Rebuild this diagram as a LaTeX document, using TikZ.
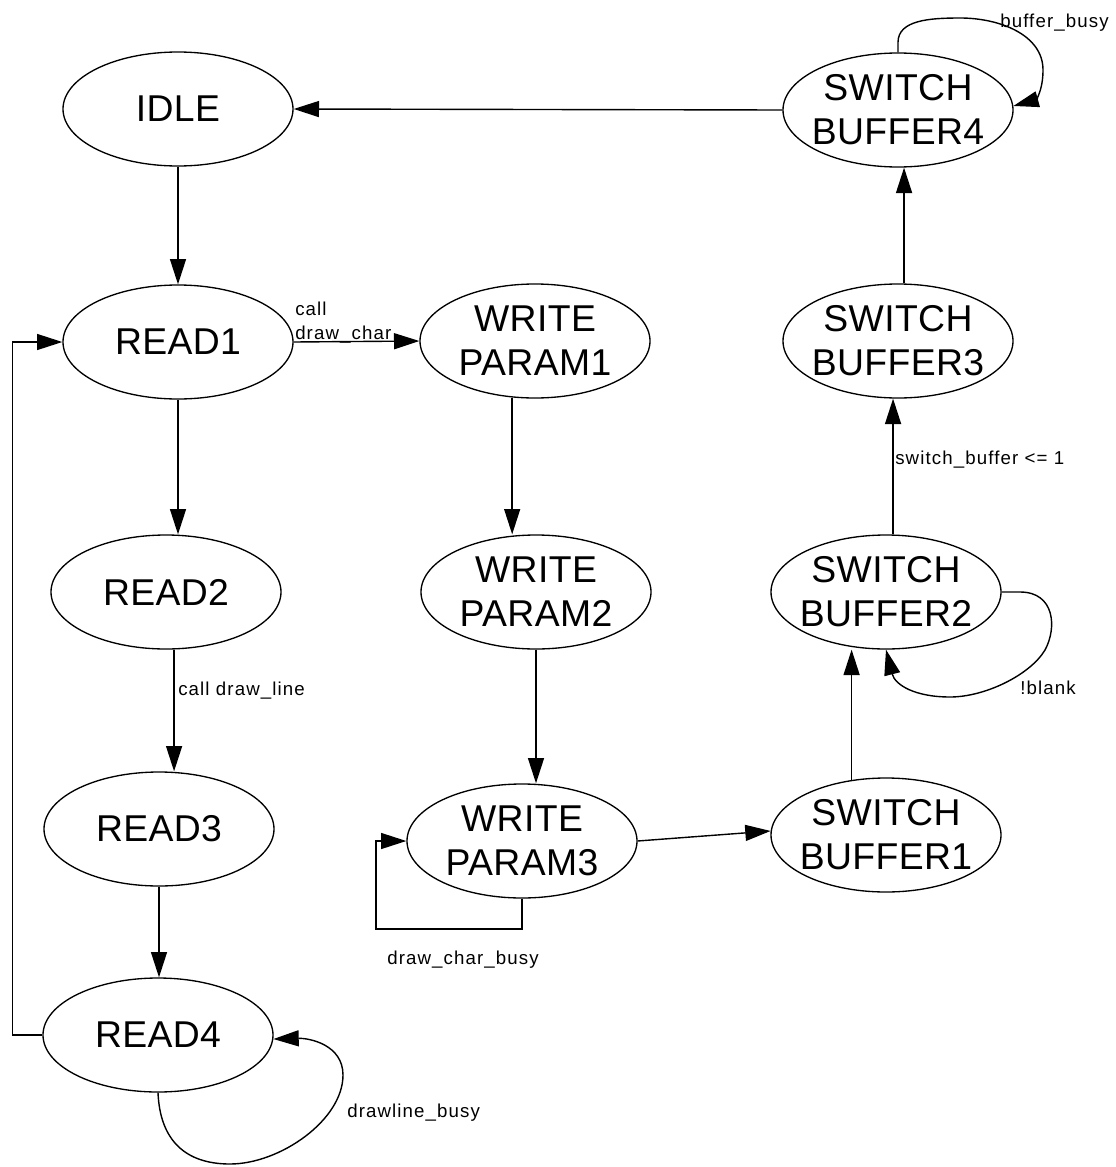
\documentclass[tikz,border=0pt]{standalone}
\usepackage{fontspec}
\setmainfont{Liberation Sans}
\newfontfamily\statefont[LetterSpace=1]{Liberation Sans}
\newfontfamily\guardfont[LetterSpace=6]{Liberation Sans}
\usetikzlibrary{shapes.geometric,arrows.meta}

\begin{document}
\begin{tikzpicture}[x=0.75pt,y=-0.75pt,
  fsm/.style={ellipse,draw,line width=1pt,minimum width=172.5pt,minimum height=85.5pt,inner sep=0pt},
  statename/.style={font=\statefont\fontsize{28}{33}\selectfont,align=center,inner sep=0pt},
  trans/.style={draw,line width=1.05pt,-{Triangle[length=19pt,width=12pt]}},
  guard/.style={font=\guardfont\fontsize{14}{18}\selectfont,inner sep=0pt}]

\path[use as bounding box] (0,0) rectangle (1115,1167);

% states
\node[fsm,label={[statename]center:IDLE}]  (idle)  at (178,109) {};
\node[fsm,label={[statename]center:READ1}] (read1) at (178,342) {};
\node[fsm,label={[statename]center:READ2}] (read2) at (166,592) {};
\node[fsm,label={[statename]center:READ3}] (read3) at (159,829) {};
\node[fsm,label={[statename]center:READ4}] (read4) at (158,1035) {};
\node[fsm,label={[statename]center:WRITE\\PARAM1}] (wp1) at (535,341) {};
\node[fsm,label={[statename]center:WRITE\\PARAM2}] (wp2) at (536,592) {};
\node[fsm,label={[statename]center:WRITE\\PARAM3}] (wp3) at (522,841) {};
\node[fsm,label={[statename]center:SWITCH\\BUFFER1}] (sb1) at (886,835) {};
\node[fsm,label={[statename]center:SWITCH\\BUFFER2}] (sb2) at (886,592) {};
\node[fsm,label={[statename]center:SWITCH\\BUFFER3}] (sb3) at (898,341) {};
\node[fsm,label={[statename]center:SWITCH\\BUFFER4}] (sb4) at (898,110) {};

\coordinate (wp3loop) at (376,929);

% transitions
\draw[trans] (idle.south) -- (read1.north);
\draw[trans] (sb4.west) -- (idle.east);
\draw[trans] (read1.east) -- (wp1.west);
\draw[trans] (read1.south) -- (read1.south |- read2.north);
\draw[trans] (read2.278) -- (read2.278 |- read3.north);
\draw[trans] (read3.south) -- (read3.south |- read4.north);
\draw[trans] (read4.west) -- ++(-30,0) |- (read1.west);
\draw[trans] (read4.south) .. controls (160,1140) and (185,1164) .. (230,1164)
  .. controls (280,1164) and (343,1120) .. (343,1075)
  .. controls (343,1045) and (310,1038) .. (read4.358);
\draw[trans] (wp1.248) -- (wp1.248 |- wp2.north);
\draw[trans] (wp2.south) -- (wp2.south |- wp3.north);
\draw[trans] (wp3.south) |- (wp3loop) |- (wp3.west);
\draw[trans] (wp3.east) -- (sb1.178);
\draw[trans] (sb1.122) -- (sb1.122 |- sb2.south);
\draw[trans] (sb2.east) -- (1020,592) .. controls (1055,592) and (1057,628) .. (1045,650)
  .. controls (1030,675) and (985,697) .. (950,697)
  .. controls (915,697) and (895,685) .. (sb2.south);
\draw[trans] (sb2.83) -- (sb2.83 |- sb3.south);
\draw[trans] (sb3.84) -- (sb3.84 |- sb4.south);
\draw[trans] (sb4.north) -- ++(0,-10) .. controls (898,20) and (930,18) .. (960,18)
  .. controls (1000,18) and (1043,35) .. (1043,70)
  .. controls (1043,92) and (1035,100) .. (sb4.2);

% transition conditions
\node[guard,align=left,anchor=south west] (gchar) at (295,343) {call\\draw\_char};
\node[guard,anchor=base west] (gline)  at (178,695)  {call draw\_line};
\node[guard,anchor=base west] (gswitch) at (895,464) {switch\_buffer <= 1};
\node[guard,anchor=base west] (gblank) at (1020,694) {!blank};
\node[guard,anchor=base west] (gbuf)   at (1000,27)  {buffer\_busy};
\node[guard,anchor=base west] (gdline) at (347,1117) {drawline\_busy};
\node[guard,anchor=base west] (gdchar) at (387,964)  {draw\_char\_busy};

\end{tikzpicture}
\end{document}
